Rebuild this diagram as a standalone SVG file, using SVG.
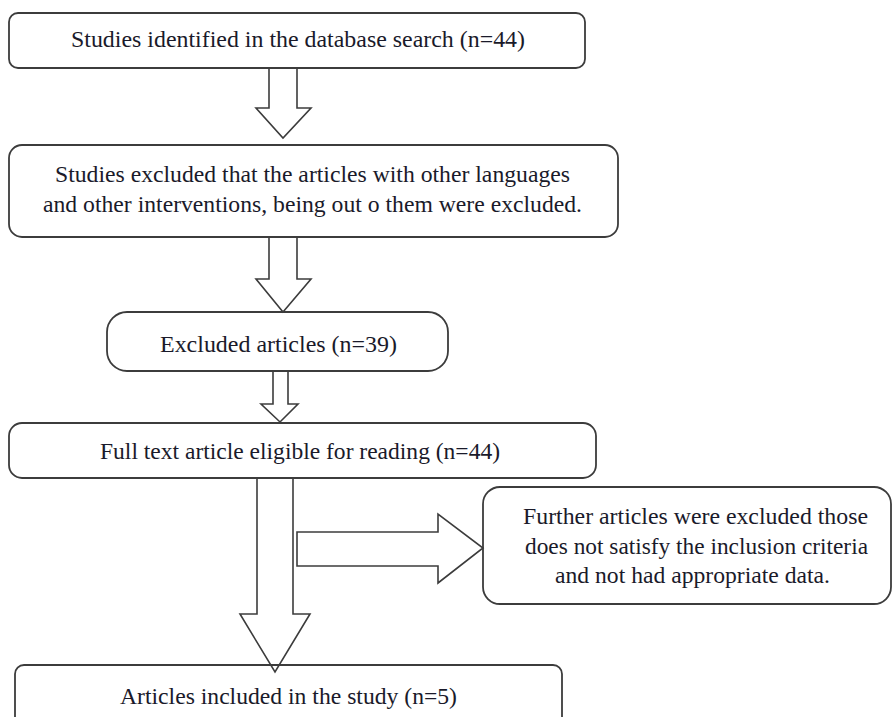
<svg xmlns="http://www.w3.org/2000/svg" width="894" height="717" viewBox="0 0 894 717">
<style>
.box{fill:#ffffff;stroke:#3c3c3c;stroke-width:1.8}
.arr{fill:none;stroke:#3c3c3c;stroke-width:1.6;stroke-linejoin:miter}
.t{font-family:"Liberation Serif","Times New Roman",serif;font-size:24px;fill:#1a1a2a}
</style>
<rect width="894" height="717" fill="#ffffff"/>
<g id="node-identified">
<rect class="box" x="9" y="13" width="576" height="55" rx="9"/>
<text class="t" x="71" y="47" textLength="454" lengthAdjust="spacingAndGlyphs">Studies identified in the database search (n=44)</text>
</g>
<g id="node-excluded-languages">
<rect class="box" x="9" y="145" width="609" height="92" rx="13"/>
<text class="t" x="55" y="182" textLength="515" lengthAdjust="spacingAndGlyphs">Studies excluded that the articles with other languages</text>
<text class="t" x="43" y="212" textLength="539" lengthAdjust="spacingAndGlyphs">and other interventions, being out o them were excluded.</text>
</g>
<g id="node-excluded-articles">
<rect class="box" x="107" y="312" width="341" height="59" rx="20"/>
<text class="t" x="160" y="352" textLength="237" lengthAdjust="spacingAndGlyphs">Excluded articles (n=39)</text>
</g>
<g id="node-full-text">
<rect class="box" x="9" y="423" width="587" height="55" rx="13"/>
<text class="t" x="100" y="459" textLength="400" lengthAdjust="spacingAndGlyphs">Full text article eligible for reading (n=44)</text>
</g>
<g id="node-further-excluded">
<rect class="box" x="483" y="487" width="408" height="117" rx="17"/>
<text class="t" x="523" y="524" textLength="345" lengthAdjust="spacingAndGlyphs">Further articles were excluded those</text>
<text class="t" x="525" y="554" textLength="343" lengthAdjust="spacingAndGlyphs">does not satisfy the inclusion criteria</text>
<text class="t" x="555" y="583" textLength="275" lengthAdjust="spacingAndGlyphs">and not had appropriate data.</text>
</g>
<g id="node-included">
<rect class="box" x="15" y="665" width="547" height="70" rx="9"/>
<text class="t" x="120" y="704" textLength="337" lengthAdjust="spacingAndGlyphs">Articles included in the study (n=5)</text>
</g>
<g id="connectors">
<polygon class="arr" points="269,68 297,68 297,108 311,108 283,138 256,108 269,108"/>
<polygon class="arr" points="269,237 297,237 297,279 311,279 283,312 256,279 269,279"/>
<polygon class="arr" points="273,371 288,371 288,404 298,404 280,422 261,404 273,404"/>
<polygon class="arr" points="257,478 293,478 293,614 310,614 275,672 240,614 257,614"/>
<polygon class="arr" points="297,532 438,532 438,514 483,548 438,583 438,566 297,566"/>
</g>
</svg>
